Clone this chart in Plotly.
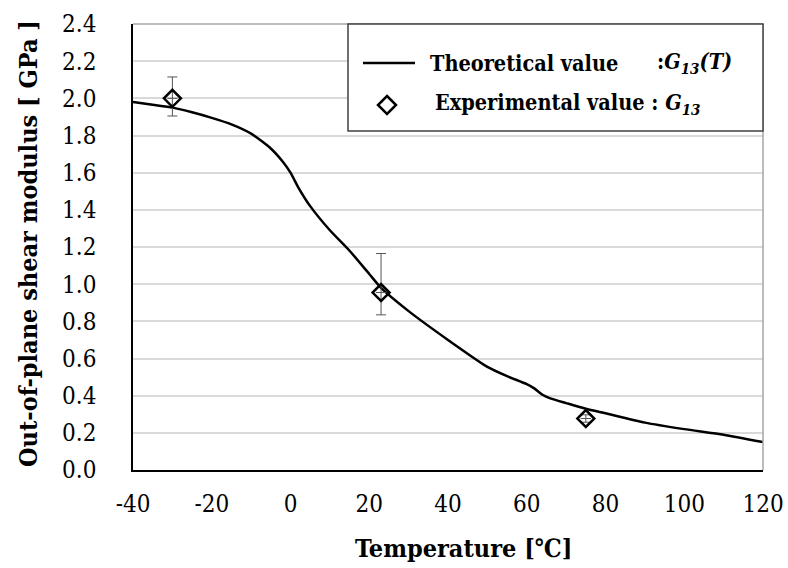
import plotly.graph_objects as go

# Theoretical curve G13(T)
T_curve = [-40, -35, -30, -25, -20, -15, -10, -5, -2, 0, 2, 5, 10, 15, 20, 23, 30, 40,
           50, 55, 60, 62, 64, 66, 70, 75, 80, 90, 100, 110, 120]
G_curve = [1.98, 1.965, 1.95, 1.925, 1.895, 1.86, 1.81, 1.73, 1.66, 1.60, 1.52, 1.42, 1.29,
           1.18, 1.055, 0.98, 0.855, 0.70, 0.555, 0.505, 0.462, 0.438, 0.405, 0.385, 0.36,
           0.33, 0.305, 0.255, 0.22, 0.19, 0.15]

# Experimental values
T_exp = [-30, 23, 75]
G_exp = [2.0, 0.955, 0.277]
G_err_plus = [0.115, 0.21, 0.02]
G_err_minus = [0.095, 0.12, 0.02]
T_err = [1.3, 1.3, 1.3]

x_ticks = [-40, -20, 0, 20, 40, 60, 80, 100, 120]
y_ticks = [0.0, 0.2, 0.4, 0.6, 0.8, 1.0, 1.2, 1.4, 1.6, 1.8, 2.0, 2.2, 2.4]

FONT = "DejaVu Serif Condensed, DejaVu Serif"
W, H = 788, 568
L, R, T, B = 133, 25, 24, 98

fig = go.Figure()
fig.add_trace(go.Scatter(x=T_curve, y=G_curve, mode="lines",
                         line=dict(color="black", width=2.5, shape="spline", smoothing=0.6),
                         showlegend=False, hoverinfo="skip"))
fig.add_trace(go.Scatter(x=T_exp, y=G_exp, mode="markers",
                         marker=dict(symbol="diamond-open", size=13, color="black",
                                     line=dict(width=2.5, color="black")),
                         error_y=dict(type="data", array=G_err_plus, arrayminus=G_err_minus,
                                      symmetric=False, color="#555555", thickness=1, width=5),
                         error_x=dict(type="data", array=T_err, color="#555555",
                                      thickness=1, width=0),
                         showlegend=False))

def px(xp):
    return (xp - L) / (W - L - R)

def py(yp):
    return 1 - (yp - T) / (H - T - B)

shapes = []
shapes.append(dict(type="line", xref="paper", yref="paper", x0=0, x1=1, y0=1, y1=1,
                   line=dict(color="#a6a6a6", width=1.5)))
shapes.append(dict(type="line", xref="paper", yref="paper", x0=1, x1=1, y0=0, y1=1,
                   line=dict(color="#a6a6a6", width=1.5)))
shapes.append(dict(type="rect", xref="paper", yref="paper", x0=px(348), x1=px(763),
                   y0=py(131), y1=py(24), fillcolor="white",
                   line=dict(color="#404040", width=1.5), layer="above"))
shapes.append(dict(type="line", xref="paper", yref="paper", x0=px(363), x1=px(415),
                   y0=py(63), y1=py(63), line=dict(color="black", width=2.5), layer="above"))
cx, cy, r = 387, 105, 9
path = (f"M {px(cx)} {py(cy - r)} L {px(cx + r)} {py(cy)} L {px(cx)} {py(cy + r)} "
        f"L {px(cx - r)} {py(cy)} Z")
shapes.append(dict(type="path", xref="paper", yref="paper", path=path,
                   line=dict(color="black", width=2.5), layer="above"))

LEG = 21.5
annotations = [
    dict(text="<b>Theoretical value</b>", x=px(428), y=py(63), xref="paper", yref="paper",
         xanchor="left", yanchor="middle", showarrow=False,
         font=dict(family=FONT, size=LEG, color="black")),
    dict(text="<b>:<i>G<sub>13</sub>(T)</i></b>", x=px(655), y=py(63), xref="paper",
         yref="paper", xanchor="left", yanchor="middle", showarrow=False,
         font=dict(family=FONT, size=LEG, color="black")),
    dict(text="<b>Experimental value : <i>G<sub>13</sub></i></b>", x=px(433), y=py(105),
         xref="paper", yref="paper", xanchor="left", yanchor="middle", showarrow=False,
         font=dict(family=FONT, size=LEG, color="black")),
    dict(text="<b>Temperature [℃]</b>", x=px(463), y=py(548), xref="paper", yref="paper",
         xanchor="center", yanchor="middle", showarrow=False,
         font=dict(family=FONT, size=25, color="black")),
    dict(text="<b>Out-of-plane shear modulus [ GPa ]</b>", x=px(28), y=py(244),
         xref="paper", yref="paper", xanchor="center", yanchor="middle", showarrow=False,
         textangle=-90, font=dict(family=FONT, size=25, color="black")),
]

fig.update_layout(
    width=W, height=H,
    margin=dict(l=L, r=R, t=T, b=B, autoexpand=False),
    paper_bgcolor="white", plot_bgcolor="white",
    font=dict(family=FONT, size=24, color="black"),
    shapes=shapes, annotations=annotations,
    showlegend=False,
)
fig.update_xaxes(range=[-40, 120], tickvals=x_ticks, ticktext=[str(v) for v in x_ticks],
                 showgrid=False, zeroline=False, showline=True, linecolor="black",
                 linewidth=1.5, ticks="", ticklabelstandoff=11, automargin=False,
                 tickfont=dict(family=FONT, size=24, color="black"))
fig.update_yaxes(range=[0, 2.4], tickvals=y_ticks, ticktext=[f"{v:.1f}" for v in y_ticks],
                 showgrid=True, gridcolor="#d9d9d9", gridwidth=1.5, zeroline=False,
                 showline=True, linecolor="black", linewidth=1.5, ticks="",
                 ticklabelstandoff=30, automargin=False,
                 tickfont=dict(family=FONT, size=24, color="black"))

fig.write_html("out.html")
